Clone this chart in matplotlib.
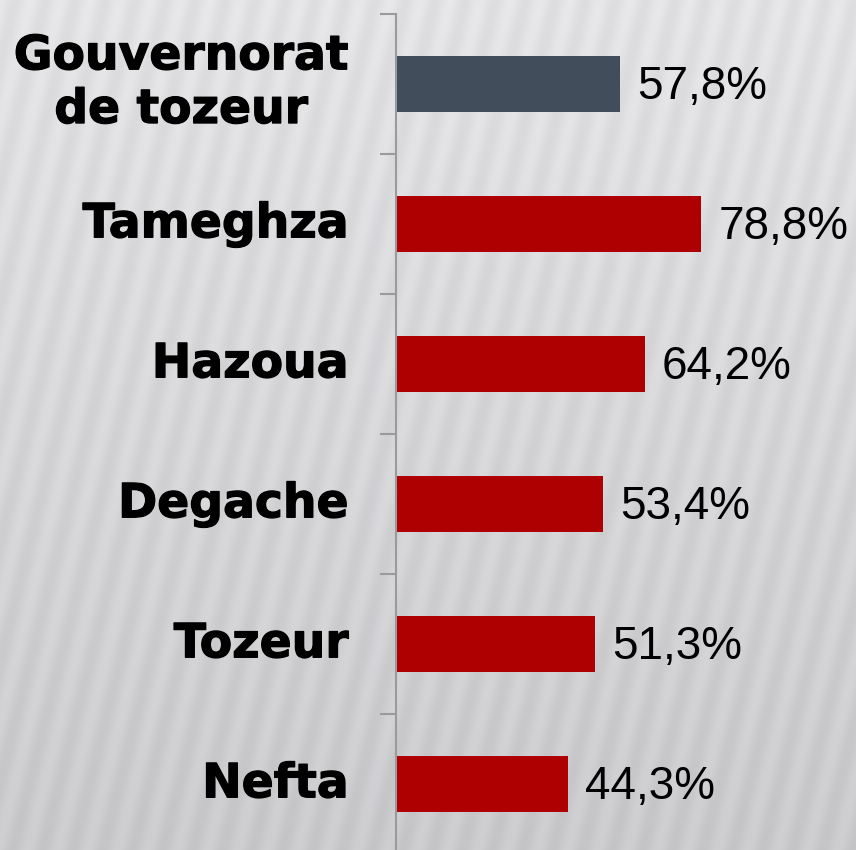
import numpy as np
import matplotlib
matplotlib.use("Agg")
import matplotlib.pyplot as plt
import matplotlib.patheffects as pe
import matplotlib.transforms as mtransforms

categories = ["Gouvernorat\nde tozeur", "Tameghza", "Hazoua", "Degache", "Tozeur", "Nefta"]
values = [57.8, 78.8, 64.2, 53.4, 51.3, 44.3]
value_labels = ["57,8%", "78,8%", "64,2%", "53,4%", "51,3%", "44,3%"]
colors = ["#424d5b", "#ae0000", "#ae0000", "#ae0000", "#ae0000", "#ae0000"]

W, H = 856, 850
fig = plt.figure(figsize=(W / 100, H / 100), dpi=100)

# background: vertical gradient with slanted stripes
bg = fig.add_axes([0, 0, 1, 1], zorder=-10)
yy, xx = np.mgrid[0:H, 0:W]
grad = 0.89 - 0.10 * (yy / H)
phase = (xx + yy * 0.25) / 30.0 * 2 * np.pi
stripes = 0.02 * np.cos(phase)
lum = grad + stripes
img = np.dstack([lum, lum, lum + 0.012])
img = np.clip(img, 0, 1)
bg.imshow(img, aspect="auto", extent=[0, 1, 0, 1], interpolation="bilinear")
bg.set_axis_off()

ax = fig.add_axes([396 / W, -4 / H, 1 - 396 / W, 840 / H])
ax.patch.set_alpha(0)
n = len(categories)
pos = np.arange(n)
ax.barh(pos, values, height=0.4, color=colors)
ax.set_ylim(n - 0.5, -0.5)
ax.set_xlim(0, (W - 396) / 3.875)

for p, v, lab in zip(pos, values, value_labels):
    ax.text(v + 4.4, p + 0.02, lab, va="center", ha="left", fontsize=33,
            family="Liberation Sans", color="black")

ax.set_yticks(pos)
ax.set_yticklabels(categories, fontsize=34, fontweight="bold", family="DejaVu Sans",
                   multialignment="center", linespacing=1.25)
ax.tick_params(axis="y", which="major", length=0, pad=34)
ax.set_yticks(np.arange(n) - 0.5, minor=True)
ax.tick_params(axis="y", which="minor", length=11.5, width=1.5, color="#9a9a9a")
ax.set_xticks([])
for s in ["top", "right", "bottom"]:
    ax.spines[s].set_visible(False)
ax.spines["left"].set_color("#9a9a9a")
ax.spines["left"].set_linewidth(1.5)

offset = mtransforms.ScaledTranslation(0, 3 / 72, fig.dpi_scale_trans)
for i, t in enumerate(ax.get_yticklabels()):
    extra = mtransforms.ScaledTranslation(0, (4 / 72) if i == 0 else 0, fig.dpi_scale_trans)
    t.set_transform(t.get_transform() + offset + extra)
    t.set_path_effects([pe.withStroke(linewidth=0.9, foreground="black")])

fig.savefig("out.png", dpi=100)
